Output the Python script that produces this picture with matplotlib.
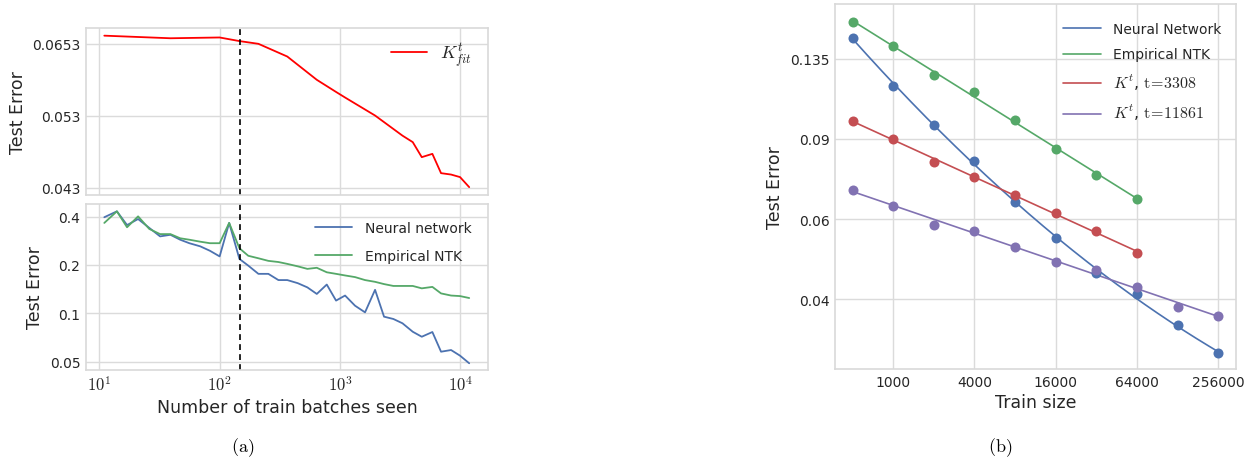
import numpy as np
import matplotlib
matplotlib.use('Agg')
import matplotlib.pyplot as plt
import seaborn as sns
from matplotlib.ticker import FixedLocator, FixedFormatter, NullLocator

sns.set_style('whitegrid')
plt.rcParams['font.family'] = ['DejaVu Sans']
plt.rcParams['mathtext.fontset'] = 'cm'

# ---------------- data: panel (a) ----------------
batches = [11, 14, 17, 21, 26, 32, 39, 47, 56, 69, 83, 100, 120, 146, 173, 210, 254, 308,
           365, 446, 536, 642, 777, 928, 1103, 1335, 1616, 1958, 2325, 2780, 3308, 4027,
           4786, 5863, 6921, 8385, 9960, 11861]
nn_err = [0.396, 0.431, 0.354, 0.386, 0.340, 0.301, 0.308, 0.287, 0.273, 0.261, 0.245, 0.226,
          0.365, 0.218, 0.198, 0.176, 0.176, 0.161, 0.161, 0.154, 0.145, 0.132, 0.151, 0.120,
          0.129, 0.1115, 0.1014, 0.140, 0.0953, 0.0922, 0.0867, 0.0768, 0.0715, 0.0765,
          0.0577, 0.0591, 0.0545, 0.0489]
ntk_err = [0.365, 0.431, 0.343, 0.401, 0.335, 0.311, 0.311, 0.293, 0.287, 0.279, 0.273, 0.273,
           0.365, 0.254, 0.228, 0.220, 0.212, 0.2085, 0.203, 0.196, 0.189, 0.192, 0.180, 0.176,
           0.172, 0.168, 0.161, 0.157, 0.152, 0.148, 0.148, 0.148, 0.143, 0.146, 0.133, 0.129,
           0.128, 0.1245]
kfit_batches = [11, 39, 100, 146, 210, 365, 642, 928, 1103, 1958, 3308, 4027, 4786, 5863,
                6921, 8385, 9960, 11861]
kfit_err = [0.0668, 0.0663, 0.06645, 0.06576, 0.06524, 0.06288, 0.05878, 0.05675, 0.05584,
            0.0530, 0.0500, 0.04907, 0.04698, 0.04743, 0.04485, 0.04467, 0.04434, 0.04307]
split_batch = 148

top_yticks = [0.043, 0.053, 0.0653]
top_yticklabels = ['0.043', '0.053', '0.0653']
bot_yticks = [0.05, 0.1, 0.2, 0.4]
bot_yticklabels = ['0.05', '0.1', '0.2', '0.4']
left_xticks = [10, 100, 1000, 10000]
left_xticklabels = [r'$10^{1}$', r'$10^{2}$', r'$10^{3}$', r'$10^{4}$']

# ---------------- data: panel (b) ----------------
train_sizes = [500, 1000, 2000, 4000, 8000, 16000, 32000, 64000, 128000, 256000]
nn_size_err = [0.1502, 0.1175, 0.0964, 0.0805, 0.0654, 0.0544, 0.0456, 0.0410, 0.0351, 0.0304]
ntk_size_err = [0.1627, 0.1436, 0.1245, 0.1139, 0.0992, 0.0854, 0.0751, 0.0664]
kt3308_err = [0.0987, 0.0898, 0.0802, 0.0742, 0.0677, 0.0619, 0.0564, 0.0505]
kt11861_err = [0.0695, 0.0642, 0.0583, 0.0565, 0.0521, 0.0483, 0.0464, 0.0425, 0.0385, 0.0367]

right_xticks = [1000, 4000, 16000, 64000, 256000]
right_xticklabels = ['1000', '4000', '16000', '64000', '256000']
right_yticks = [0.04, 0.06, 0.09, 0.135]
right_yticklabels = ['0.04', '0.06', '0.09', '0.135']

BLUE, GREEN, RED, PURPLE = '#4C72B0', '#55A868', '#C44E52', '#8172B2'
TXT = '.15'

fig = plt.figure(figsize=(12.47, 4.6), dpi=100)
W, H = 1247.0, 460.0


def rect(x0, y0, x1, y1):
    return [x0 / W, 1 - y1 / H, (x1 - x0) / W, (y1 - y0) / H]


ax_top = fig.add_axes(rect(86, 29, 488, 196))
ax_bot = fig.add_axes(rect(86, 205, 488, 371))
ax_r = fig.add_axes(rect(835, 5, 1236, 370))

for ax in (ax_top, ax_bot, ax_r):
    for s in ax.spines.values():
        s.set_color('.85')
        s.set_linewidth(1.2)
    ax.grid(True, color='.86', linewidth=1.0)
    ax.tick_params(length=0, labelsize=10, colors=TXT, pad=4)

LEG = dict(frameon=False)

# ---- top left
ax_top.plot(kfit_batches, kfit_err, color='red', lw=1.3, label=r'$K^t_{fit}$', zorder=2)
ax_top.axvline(split_batch, color='k', ls='--', lw=1.2, dashes=(3.5, 2.5), zorder=2)
ax_top.set_xscale('log')
ax_top.set_yscale('log')
ax_top.set_xlim(7.75, 17000)
ax_top.set_ylim(0.0421, 0.0683)
ax_top.xaxis.set_major_locator(FixedLocator(left_xticks))
ax_top.xaxis.set_minor_locator(NullLocator())
ax_top.tick_params(labelbottom=False)
ax_top.yaxis.set_major_locator(FixedLocator(top_yticks))
ax_top.yaxis.set_major_formatter(FixedFormatter(top_yticklabels))
ax_top.yaxis.set_minor_locator(NullLocator())
ax_top.set_ylabel('Test Error', fontsize=12.5, color=TXT)
ax_top.legend(loc='upper right', fontsize=13, handlelength=2.0, handletextpad=0.7,
              bbox_to_anchor=(1.0, 1.02), **LEG)

# ---- bottom left
ax_bot.plot(batches, nn_err, color=BLUE, lw=1.3, label='Neural network', zorder=2)
ax_bot.plot(batches, ntk_err, color=GREEN, lw=1.3, label='Empirical NTK', zorder=2)
ax_bot.axvline(split_batch, color='k', ls='--', lw=1.2, dashes=(3.5, 2.5), zorder=2)
ax_bot.set_xscale('log')
ax_bot.set_yscale('log')
ax_bot.set_xlim(7.75, 17000)
ax_bot.set_ylim(0.0444, 0.4787)
ax_bot.xaxis.set_major_locator(FixedLocator(left_xticks))
ax_bot.xaxis.set_major_formatter(FixedFormatter(left_xticklabels))
ax_bot.xaxis.set_minor_locator(NullLocator())
ax_bot.yaxis.set_major_locator(FixedLocator(bot_yticks))
ax_bot.yaxis.set_major_formatter(FixedFormatter(bot_yticklabels))
ax_bot.yaxis.set_minor_locator(NullLocator())
ax_bot.tick_params(axis='x', labelsize=12)
ax_bot.set_ylabel('Test Error', fontsize=12.5, color=TXT)
ax_bot.set_xlabel('Number of train batches seen', fontsize=12.5, color=TXT, labelpad=3)
ax_bot.legend(loc='upper right', fontsize=10, handlelength=2.7, labelspacing=1.0,
              handletextpad=0.9, bbox_to_anchor=(0.99, 0.975), **LEG)

# ---- right panel
series = [
    (train_sizes, nn_size_err, BLUE, 'Neural Network', 2),
    (train_sizes[:len(ntk_size_err)], ntk_size_err, GREEN, 'Empirical NTK', 1),
    (train_sizes[:len(kt3308_err)], kt3308_err, RED, r'$K^t$, $\mathrm{t\!=\!3308}$', 1),
    (train_sizes, kt11861_err, PURPLE, r'$K^t$, $\mathrm{t\!=\!11861}$', 1),
]
for xs, ys, col, lab, deg in series:
    lx, ly = np.log(xs), np.log(ys)
    coef = np.polyfit(lx, ly, deg)
    xf = np.geomspace(xs[0], xs[-1], 200)
    yf = np.exp(np.polyval(coef, np.log(xf)))
    ax_r.plot(xf, yf, color=col, lw=1.2, label=lab, zorder=2)
    ax_r.scatter(xs, ys, color=col, s=52, zorder=3, linewidths=0)

ax_r.set_xscale('log', base=2)
ax_r.set_yscale('log')
ax_r.set_xlim(370, 347000)
ax_r.set_ylim(0.0281, 0.178)
ax_r.xaxis.set_major_locator(FixedLocator(right_xticks))
ax_r.xaxis.set_major_formatter(FixedFormatter(right_xticklabels))
ax_r.xaxis.set_minor_locator(NullLocator())
ax_r.yaxis.set_major_locator(FixedLocator(right_yticks))
ax_r.yaxis.set_major_formatter(FixedFormatter(right_yticklabels))
ax_r.yaxis.set_minor_locator(NullLocator())
ax_r.set_ylabel('Test Error', fontsize=12.5, color=TXT)
ax_r.set_xlabel('Train size', fontsize=12.5, color=TXT, labelpad=3)
leg_r = ax_r.legend(loc='upper right', fontsize=10, handlelength=2.7, labelspacing=0.82,
                    handletextpad=0.9, bbox_to_anchor=(0.995, 0.985), **LEG)
for t in leg_r.get_texts()[2:]:
    t.set_fontsize(11.5)

fig.text(243 / W, 1 - 448 / H, r'$\mathrm{(a)}$', ha='center', va='center', fontsize=13, color='k')
fig.text(1000 / W, 1 - 448 / H, r'$\mathrm{(b)}$', ha='center', va='center', fontsize=13, color='k')

fig.savefig('out.png', dpi=100)
